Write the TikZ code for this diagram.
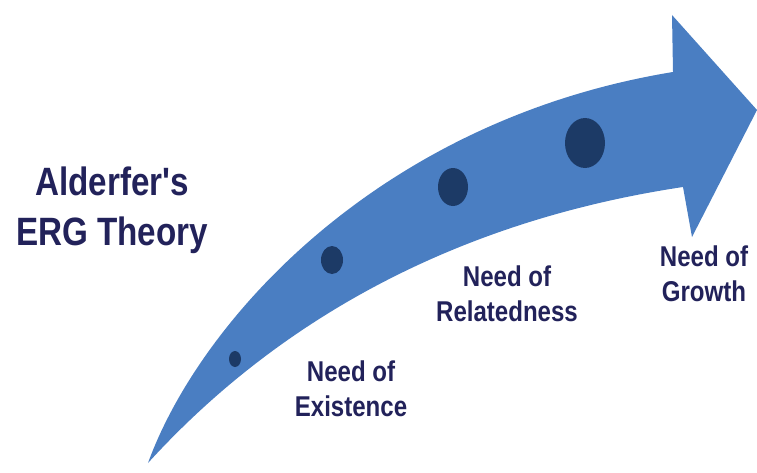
\documentclass[tikz,border=0pt]{standalone}
\usepackage{fontspec}
\newfontfamily\ergfont[FakeStretch=0.84]{Liberation Sans}
\usetikzlibrary{positioning}
\definecolor{arrowblue}{HTML}{4A7EC2}
\definecolor{dotnavy}{HTML}{1C3A66}
\definecolor{textnavy}{HTML}{22225A}

\begin{document}
\begin{tikzpicture}[x=0.02cm, y=-0.02cm,
    title/.style={align=center, inner sep=0pt, text=textnavy, font=\ergfont\bfseries\fontsize{22.5}{28.5}\selectfont},
    need/.style={align=center, inner sep=0pt, text=textnavy, font=\ergfont\bfseries\fontsize{16.3}{19.9}\selectfont}]
  \useasboundingbox (0,0) rectangle (757,473);
  % the curved arrow
  \fill[arrowblue] (148,463) .. controls (200,320) and (380,120) .. (673,72)
    -- (672,15) -- (757,110) -- (692,237) -- (683,187)
    .. controls (430,225) and (260,340) .. (148,463) -- cycle;
  % dots growing along the arrow
  \foreach \px/\py/\rx/\ry in {235/359/6/8, 332/260/11/14, 453/187/15/19, 585/143/20/25}
    \fill[dotnavy] (\px,\py) ellipse [x radius=\rx, y radius=\ry];
  \node[title] (theory) at (112,210) {Alderfer's\\ERG Theory};
  \node[need] (existence) at (351,389) {Need of\\Existence};
  \node[need] (relatedness) at (507,294) {Need of\\Relatedness};
  \node[need] (growth) at (704,274) {Need of\\Growth};
\end{tikzpicture}
\end{document}
